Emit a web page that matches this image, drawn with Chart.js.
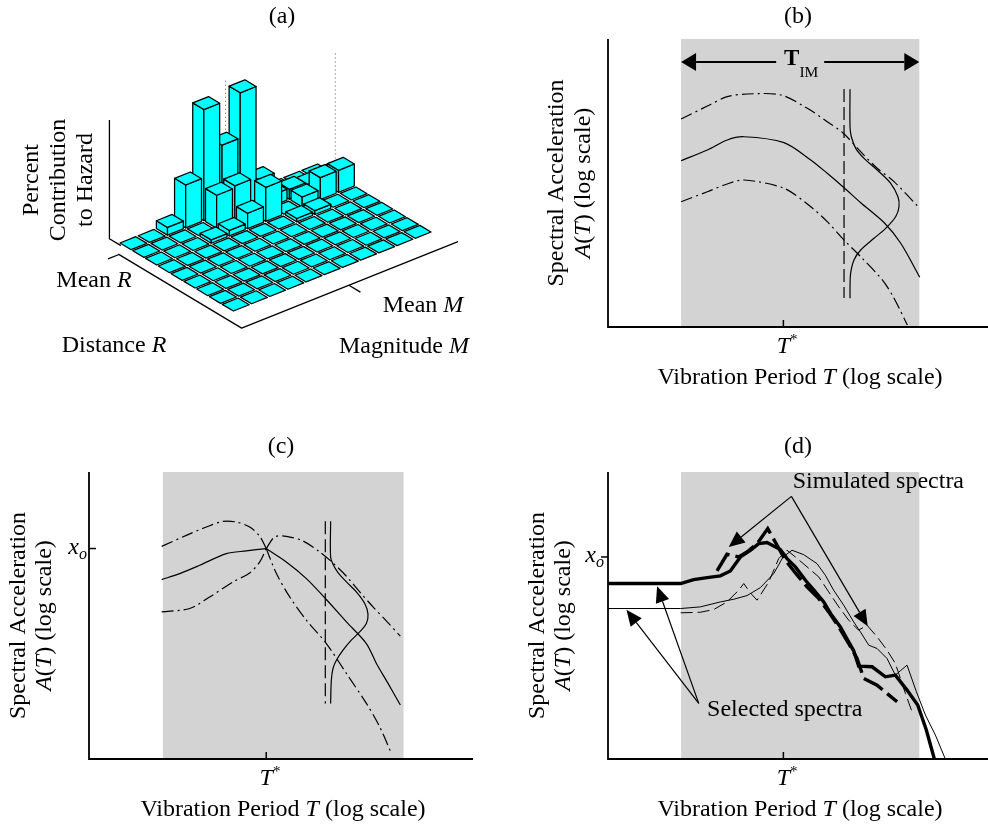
<!DOCTYPE html>
<html>
<head>
<meta charset="utf-8">
<title>Conditional spectrum record selection</title>
<script src="https://cdn.jsdelivr.net/npm/chart.js@4.4.1/dist/chart.umd.min.js"></script>
<style>
  html, body { margin: 0; padding: 0; background: #fff; }
  #wrap { position: relative; width: 988px; height: 830px; overflow: hidden; }
  #wrap canvas { position: absolute; }
</style>
</head>
<body>
<div id="wrap">
  <canvas id="pa" width="494" height="400" style="left:0;top:0"></canvas>
  <canvas id="pb" width="494" height="400" style="left:494px;top:0"></canvas>
  <canvas id="pc" width="494" height="420" style="left:0;top:410px"></canvas>
  <canvas id="pd" width="494" height="420" style="left:494px;top:410px"></canvas>
</div>
<script>
// ---------------------------------------------------------------------------
// (a) Deaggregation: percent contribution to hazard.
//     One array per distance bin (back row first), one entry per magnitude bin.
// ---------------------------------------------------------------------------
const deaggR0 = [0, 0, 0.7, 3.9, 10.1, 6.2, 10.3, 1.75, 0, 0, 0];
const deaggR1 = [0, 0, 0, 0, 3.0, 3.2, 0, 1.0, 0.9, 0.7, 0.8];
const deaggR2 = [0, 0, 0, 0.3, 0.5, 1.4, 3.1, 0, 0.9, 2.0, 2.0];
const deaggR3 = [0, 0, 0, 0, 0, 0, 0, 0.3, 0.35, 0, 0];
const deaggR4 = [0, 0, 0, 0, 0, 0, 0, 0, 0, 0, 0];
const deaggR5 = [0, 0, 0, 0, 0, 0, 0, 0, 0, 0, 0];
const deaggR6 = [0, 0, 0, 0, 0, 0, 0, 0, 0, 0, 0];
const deaggR7 = [0, 0, 0, 0, 0, 0, 0, 0, 0, 0, 0];
const deaggR8 = [0, 0, 0, 0, 0, 0, 0, 0, 0, 0, 0];
const deaggRows = [deaggR0, deaggR1, deaggR2, deaggR3, deaggR4, deaggR5, deaggR6, deaggR7, deaggR8];
const meanMagnitudeBin = 5.6;   // position of "Mean M" along the magnitude bins
const meanDistanceBin = 0.5;    // position of "Mean R" along the distance bins
const percentAxisTop = 10.8;    // top of the percent axis

// ---------------------------------------------------------------------------
// Spectra: x = log10(T / T*), y = log10 of spectral acceleration (arbitrary units)
// ---------------------------------------------------------------------------
const tStar = 0;
const imBand = [-0.70, 0.93];          // T_IM, the periods of interest
const xoPanelC = 0.2;                  // conditioning value x_o
const xoPanelD = 0.112;

// (b) median and +/- one sigma spectra, with the distribution at one period
const bMedX = [-0.70, -0.52, -0.384, -0.27, 0.004, 0.187, 0.30, 0.415, 0.529, 0.69, 0.803, 0.933];
const bMedY = [-0.268, -0.156, -0.052, -0.018, -0.08, -0.26, -0.399, -0.549, -0.705, -0.914, -1.128, -1.482];
const bUpX = [-0.70, -0.52, -0.384, -0.247, -0.018, 0.164, 0.30, 0.41, 0.529, 0.642, 0.757, 0.933];
const bUpY = [0.167, 0.302, 0.399, 0.427, 0.417, 0.278, 0.139, 0.018, -0.174, -0.347, -0.486, -0.764];
const bLoX = [-0.70, -0.52, -0.384, -0.27, 0.004, 0.187, 0.30, 0.415, 0.529, 0.677, 0.757, 0.848];
const bLoY = [-0.695, -0.591, -0.51, -0.469, -0.555, -0.747, -0.903, -1.094, -1.268, -1.51, -1.70, -1.979];
const bPdfX = [0.456, 0.456, 0.465, 0.495, 0.552, 0.642, 0.734, 0.784, 0.791, 0.768, 0.70, 0.62, 0.529, 0.483, 0.46, 0.456, 0.456];
const bPdfY = [0.476, 0.086, -0.018, -0.139, -0.243, -0.365, -0.503, -0.643, -0.747, -0.851, -0.972, -1.076, -1.198, -1.302, -1.441, -1.58, -1.70];
const bCutX = [0.415, 0.415];
const bCutY = [0.479, -1.698];
const bArrowY = 0.76;

// (c) conditional mean and +/- one sigma spectra given A(T*) = x_o
const cUpLX = [-0.708, -0.541, -0.405, -0.293, -0.202, -0.112, -0.044, 0];
const cUpLY = [0.223, 0.338, 0.425, 0.484, 0.477, 0.425, 0.328, 0.2];
const cUpRX = [0, 0.057, 0.136, 0.249, 0.362, 0.452, 0.543, 0.633, 0.723, 0.813, 0.908];
const cUpRY = [0.2, 0.321, 0.328, 0.279, 0.164, 0.049, -0.090, -0.253, -0.410, -0.556, -0.716];
const cMedLX = [-0.708, -0.586, -0.4505, -0.27, -0.135, 0];
const cMedLY = [-0.125, -0.062, 0.025, 0.147, 0.175, 0.2];
const cMedRX = [0, 0.136, 0.272, 0.407, 0.543, 0.678, 0.746, 0.825, 0.908];
const cMedRY = [0.2, 0.060, -0.114, -0.333, -0.567, -0.793, -1.001, -1.210, -1.436];
const cLoLX = [-0.708, -0.518, -0.383, -0.225, -0.112, -0.044, 0];
const cLoLY = [-0.462, -0.427, -0.306, -0.149, -0.055, 0.060, 0.2];
const cLoRX = [0, 0.069, 0.159, 0.272, 0.407, 0.543, 0.678, 0.768, 0.847];
const cLoRY = [0.2, -0.062, -0.306, -0.549, -0.793, -1.106, -1.419, -1.663, -1.941];
const cPdfX = [0.436, 0.436, 0.452, 0.486, 0.543, 0.610, 0.667, 0.689, 0.678, 0.633, 0.576, 0.520, 0.475, 0.452, 0.441, 0.436];
const cPdfY = [0.484, 0.112, 0.036, -0.051, -0.149, -0.253, -0.375, -0.486, -0.584, -0.671, -0.758, -0.862, -0.967, -1.054, -1.175, -1.419];
const cCutX = [0.400, 0.400];
const cCutY = [0.484, -1.419];

// (d) selected and simulated spectra
const dSel1X = [-1.2, -0.703, -0.614, -0.522, -0.431, -0.363, -0.294, -0.226, -0.169, -0.112, -0.021, 0.025, 0.082, 0.151, 0.219, 0.276, 0.326, 0.390, 0.440, 0.481, 0.515, 0.607, 0.698, 0.766, 0.846, 0.919, 0.978, 1.033];
const dSel1Y = [-0.166, -0.166, -0.125, -0.104, -0.086, -0.034, 0.112, 0.182, 0.251, 0.262, 0.189, 0.095, 0.008, -0.132, -0.253, -0.358, -0.486, -0.619, -0.758, -0.869, -1.029, -1.036, -1.141, -1.123, -1.280, -1.436, -1.697, -2.0];
const dSel2X = [-1.2, -0.703, -0.568, -0.431, -0.340, -0.249, -0.157, -0.066, -0.002, 0.059, 0.139, 0.230, 0.287, 0.344, 0.413, 0.481, 0.527, 0.584, 0.641, 0.709, 0.766, 0.846, 0.910, 0.972, 1.040, 1.108];
const dSel2Y = [-0.427, -0.427, -0.410, -0.358, -0.330, -0.292, -0.208, -0.062, 0.112, 0.182, 0.136, 0.042, -0.079, -0.236, -0.393, -0.567, -0.671, -0.810, -0.845, -0.949, -1.123, -1.019, -1.297, -1.541, -1.750, -2.0];
const dSim1X = [-0.454, -0.386, -0.306, -0.249, -0.180, -0.107, -0.043, 0.014, 0.082, 0.162, 0.242, 0.310, 0.379, 0.447, 0.504, 0.550, 0.641, 0.709, 0.778];
const dSim1Y = [-0.034, 0.140, 0.112, 0.164, 0.251, 0.408, 0.234, 0.077, -0.055, -0.201, -0.323, -0.462, -0.619, -0.793, -0.949, -1.158, -1.228, -1.315, -1.402];
const dSim2X = [-0.703, -0.568, -0.477, -0.386, -0.306, -0.271, -0.226, -0.180, -0.100, -0.032, 0.025, 0.082, 0.162, 0.242, 0.310, 0.379, 0.447, 0.515, 0.572, 0.641, 0.709, 0.766, 0.835, 0.880];
const dSim2Y = [-0.472, -0.466, -0.438, -0.358, -0.236, -0.166, -0.264, -0.340, -0.149, 0.095, 0.182, 0.112, 0.008, -0.097, -0.253, -0.410, -0.549, -0.654, -0.601, -0.723, -0.862, -1.001, -1.315, -1.506];
// callouts: label anchor and arrow tips
const simLabel = { x: 0.064, y: 0.834 };
const simFrom = { x: 0.055, y: 0.745 };
const simTips = [{ x: -0.374, y: 0.216 }, { x: 0.577, y: -0.612 }];
const selLabel = { x: -0.522, y: -1.551 };
const selFrom = { x: -0.579, y: -1.419 };
const selTips = [{ x: -1.074, y: -0.44 }, { x: -0.864, y: -0.194 }];

// ---------------------------------------------------------------------------
// text helpers
// ---------------------------------------------------------------------------
const FONT = '"Liberation Serif", "Times New Roman", Times, serif';
const FS = 24;
function fontOf(p) {
  return (p.i ? 'italic ' : '') + (p.b ? 'bold ' : '') + (p.s || FS) + 'px ' + FONT;
}
function rich(ctx, parts, x, y, align, rot) {
  ctx.save();
  ctx.translate(x, y);
  if (rot) ctx.rotate(rot);
  ctx.textAlign = 'left';
  ctx.textBaseline = 'alphabetic';
  ctx.fillStyle = '#000';
  let w = 0;
  const ws = parts.map(p => { ctx.font = fontOf(p); const m = ctx.measureText(p.t).width; w += m; return m; });
  let cx = align === 'left' ? 0 : align === 'right' ? -w : -w / 2;
  parts.forEach((p, k) => { ctx.font = fontOf(p); ctx.fillText(p.t, cx, p.dy || 0); cx += ws[k]; });
  ctx.restore();
}
function arrow(ctx, x0, y0, x1, y1, len, half, lw) {
  const a = Math.atan2(y1 - y0, x1 - x0);
  const bx = x1 - len * Math.cos(a), by = y1 - len * Math.sin(a);
  ctx.lineWidth = lw;
  ctx.beginPath(); ctx.moveTo(x0, y0); ctx.lineTo(bx, by); ctx.stroke();
  ctx.beginPath();
  ctx.moveTo(x1, y1);
  ctx.lineTo(bx + half * Math.sin(a), by - half * Math.cos(a));
  ctx.lineTo(bx - half * Math.sin(a), by + half * Math.cos(a));
  ctx.closePath(); ctx.fill();
}

const pts = (xs, ys) => xs.map((x, i) => ({ x, y: ys[i] }));
const DASHDOT = [12, 4, 2, 4];

// ---------------------------------------------------------------------------
// shared decorations for the three spectrum panels
// ---------------------------------------------------------------------------
const panelDecor = {
  pb: { title: '(b)', titleDy: -16, ylab: [-45.5, -18.5], xo: null, timArrow: true },
  pc: { title: '(c)', titleDy: -19, ylab: [-64, -38], xo: { v: xoPanelC, side: 1, gap: 2 } },
  pd: { title: '(d)', titleDy: -19, ylab: [-64, -38], xo: { v: xoPanelD, side: -1, gap: 4 }, callouts: true }
};

const spectrumDecor = {
  id: 'spectrumDecor',
  beforeDatasetsDraw(chart) {
    const { ctx, chartArea: a, scales: { x } } = chart;
    const x0 = x.getPixelForValue(imBand[0]), x1 = x.getPixelForValue(imBand[1]);
    ctx.save();
    ctx.fillStyle = '#d3d3d3';
    ctx.fillRect(x0, a.top, x1 - x0, a.bottom - a.top);
    ctx.restore();
  },
  afterDatasetsDraw(chart) {
    const cfg = panelDecor[chart.canvas.id];
    const { ctx, chartArea: a, scales: { x, y } } = chart;
    const cxArea = (a.left + a.right) / 2, cyArea = (a.top + a.bottom) / 2;
    ctx.save();
    ctx.strokeStyle = '#000';
    ctx.fillStyle = '#000';
    // axes
    ctx.lineWidth = 1.8;
    ctx.beginPath();
    ctx.moveTo(a.left, a.top); ctx.lineTo(a.left, a.bottom); ctx.lineTo(a.right, a.bottom);
    ctx.stroke();
    // T* tick and label
    const ts = x.getPixelForValue(tStar);
    ctx.lineWidth = 1.5;
    ctx.beginPath(); ctx.moveTo(ts, a.bottom); ctx.lineTo(ts, a.bottom - 7); ctx.stroke();
    ctx.font = fontOf({ i: 1, s: 24 });
    const tw = ctx.measureText('T').width;
    rich(ctx, [{ t: 'T', i: 1, s: 24 }, { t: '*', s: 15, dy: -9 }], ts - tw / 2, a.bottom + 26, 'left');
    // x_o tick and label
    if (cfg.xo) {
      const yo = y.getPixelForValue(cfg.xo.v);
      ctx.beginPath(); ctx.moveTo(a.left, yo); ctx.lineTo(a.left + 7 * cfg.xo.side, yo); ctx.stroke();
      const right = cfg.xo.side > 0 ? a.left - cfg.xo.gap : a.left - 7 - 1 + cfg.xo.gap;
      rich(ctx, [{ t: 'x', i: 1, s: 24 }, { t: 'o', i: 1, s: 16, dy: 5 }], right, yo + 5, 'right');
    }
    // titles and axis labels
    rich(ctx, [{ t: cfg.title }], cxArea, a.top + cfg.titleDy, 'center');
    rich(ctx, [{ t: 'Vibration Period ' }, { t: 'T', i: 1 }, { t: ' (log scale)' }], cxArea + 2, a.bottom + 56.5, 'center');
    rich(ctx, [{ t: 'Spectral Acceleration' }], a.left + cfg.ylab[0], cyArea, 'center', -Math.PI / 2);
    rich(ctx, [{ t: 'A', i: 1 }, { t: '(' }, { t: 'T', i: 1 }, { t: ') (log scale)' }], a.left + cfg.ylab[1], cyArea, 'center', -Math.PI / 2);
    // T_IM double arrow
    if (cfg.timArrow) {
      const x0 = x.getPixelForValue(imBand[0]), x1 = x.getPixelForValue(imBand[1]);
      const ya = y.getPixelForValue(bArrowY), xm = (x0 + x1) / 2;
      arrow(ctx, xm - 24, ya, x0, ya, 15, 9, 2);
      arrow(ctx, xm + 24, ya, x1, ya, 15, 9, 2);
      ctx.font = fontOf({ b: 1, s: 23 });
      const w1 = ctx.measureText('T').width;
      ctx.font = fontOf({ s: 15.5 });
      const w2 = ctx.measureText('IM').width;
      rich(ctx, [{ t: 'T', b: 1, s: 23 }, { t: 'IM', s: 15.5, dy: 12 }], xm - (w1 + w2) / 2 + 1, ya + 3, 'left');
    }
    // callouts for selected / simulated spectra
    if (cfg.callouts) {
      const P = p => [x.getPixelForValue(p.x), y.getPixelForValue(p.y)];
      const [sx, sy] = P(simFrom);
      simTips.forEach(t => { const [tx, ty] = P(t); arrow(ctx, sx, sy, tx, ty, 16, 7, 1.2); });
      const [lx, ly] = P(selFrom);
      selTips.forEach(t => { const [tx, ty] = P(t); arrow(ctx, lx, ly, tx, ty, 16, 7, 1.2); });
      const [s1x, s1y] = P(simLabel);
      rich(ctx, [{ t: 'Simulated spectra' }], s1x, s1y, 'left');
      const [s2x, s2y] = P(selLabel);
      rich(ctx, [{ t: 'Selected spectra' }], s2x, s2y, 'left');
    }
    ctx.restore();
  }
};

function line(data, opts) {
  return Object.assign({
    data, showLine: true, borderColor: '#000', backgroundColor: '#000',
    borderWidth: 1.2, pointRadius: 0, pointHoverRadius: 0, tension: 0.3, fill: false
  }, opts || {});
}

function spectrumChart(id, pad, datasets) {
  return new Chart(document.getElementById(id), {
    type: 'scatter',
    data: { datasets },
    options: {
      responsive: false, animation: false, events: [],
      layout: { padding: pad },
      plugins: { legend: { display: false }, tooltip: { enabled: false }, title: { display: false } },
      scales: {
        x: { type: 'linear', display: false, min: -1.2, max: 1.4 },
        y: { type: 'linear', display: false, min: -2, max: 1 }
      }
    },
    plugins: [spectrumDecor]
  });
}

// (b)
spectrumChart('pb', { left: 114, right: 0, top: 39, bottom: 73 }, [
  line(pts(bUpX, bUpY), { borderDash: DASHDOT }),
  line(pts(bMedX, bMedY)),
  line(pts(bLoX, bLoY), { borderDash: DASHDOT }),
  line(pts(bCutX, bCutY), { borderDash: [13, 5], tension: 0 }),
  line(pts(bPdfX, bPdfY), { tension: 0.35 })
]);

// (c)
spectrumChart('pc', { left: 89, right: 21, top: 62, bottom: 71 }, [
  line(pts(cUpLX, cUpLY), { borderDash: DASHDOT }),
  line(pts(cUpRX, cUpRY), { borderDash: DASHDOT }),
  line(pts(cMedLX, cMedLY)),
  line(pts(cMedRX, cMedRY)),
  line(pts(cLoLX, cLoLY), { borderDash: DASHDOT }),
  line(pts(cLoRX, cLoRY), { borderDash: DASHDOT }),
  line(pts(cCutX, cCutY), { borderDash: [13, 5], tension: 0 }),
  line(pts(cPdfX, cPdfY), { tension: 0.35 })
]);

// (d)
spectrumChart('pd', { left: 114, right: 0, top: 62, bottom: 71 }, [
  line(pts(dSim2X, dSim2Y), { borderDash: [12, 5], tension: 0, borderWidth: 1 }),
  line(pts(dSel2X, dSel2Y), { tension: 0, borderWidth: 1 }),
  line(pts(dSim1X, dSim1Y), { borderDash: [22, 6], tension: 0, borderWidth: 3.4 }),
  line(pts(dSel1X, dSel1Y), { tension: 0, borderWidth: 3.4 })
]);

// ---------------------------------------------------------------------------
// (a) 3-D bars: magnitude bins run up-right, distance bins run down-right,
//     percent runs straight up.  The view plane is mapped by two linear scales.
// ---------------------------------------------------------------------------
const VIEW = { mx: 1, my: 0.4, rx: 0.703, ry: -0.422, kz: 0.605, inset: 0.065 };
const viewX = (m, r) => m * VIEW.mx + r * VIEW.rx;
const viewY = (m, r, z) => m * VIEW.my + r * VIEW.ry + z * VIEW.kz;

const deaggCells = [];
deaggRows.forEach((row, r) => row.forEach((p, m) => deaggCells.push({ m, r, p })));

const deaggPlugin = {
  id: 'deagg3d',
  afterDatasetsDraw(chart) {
    const { ctx, scales: { x, y } } = chart;
    const P = (m, r, z) => [x.getPixelForValue(viewX(m, r)), y.getPixelForValue(viewY(m, r, z))];
    const poly = (list, fill) => {
      ctx.beginPath();
      list.forEach((p, k) => (k ? ctx.lineTo(p[0], p[1]) : ctx.moveTo(p[0], p[1])));
      if (fill) { ctx.closePath(); ctx.fill(); }
      ctx.stroke();
    };
    ctx.save();
    ctx.strokeStyle = '#000';
    ctx.lineJoin = 'round';

    // back-wall grid lines at the mean magnitude and mean distance
    ctx.lineWidth = 1;
    ctx.strokeStyle = '#555';
    ctx.setLineDash([1, 3]);
    poly([P(meanMagnitudeBin, 0.45, 0), P(meanMagnitudeBin, 0.45, 11.6)]);
    poly([P(11.6, meanDistanceBin, 0), P(11.6, meanDistanceBin, 10)]);
    ctx.setLineDash([]);
    ctx.strokeStyle = '#000';

    // percent axis and floor edges
    ctx.lineWidth = 1.3;
    poly([P(-0.05, 0.3, 0), P(-0.05, -0.6, 0), P(-0.05, -0.6, percentAxisTop)]);
    poly([P(-0.3, 0.45, -0.5), P(-0.3, 10.1, -0.5), P(11.6, 10.1, -0.5)]);
    poly([P(-0.3, meanDistanceBin, -0.5), P(-0.9, meanDistanceBin, -0.5)]);
    poly([P(meanMagnitudeBin, 10.1, -0.5), P(meanMagnitudeBin, 11.0, -0.5)]);

    // bars, painted back to front
    const g = VIEW.inset;
    const order = deaggCells.slice().sort((a, b) => (a.r - b.r) || (b.m - a.m));
    ctx.fillStyle = '#00ffff';
    ctx.lineWidth = 1.25;
    order.forEach(({ m, r, p }) => {
      const m0 = m + g, m1 = m + 1 - g, r0 = r + g, r1 = r + 1 - g;
      if (p > 0) {
        poly([P(m0, r0, 0), P(m0, r1, 0), P(m0, r1, p), P(m0, r0, p)], true);
        poly([P(m0, r1, 0), P(m1, r1, 0), P(m1, r1, p), P(m0, r1, p)], true);
      }
      poly([P(m0, r0, p), P(m1, r0, p), P(m1, r1, p), P(m0, r1, p)], true);
    });

    // labels
    rich(ctx, [{ t: '(a)' }], 282, 23, 'center');
    rich(ctx, [{ t: 'Percent' }], 38.3, 180, 'center', -Math.PI / 2);
    rich(ctx, [{ t: 'Contribution' }], 65, 180, 'center', -Math.PI / 2);
    rich(ctx, [{ t: 'to Hazard' }], 91.7, 180, 'center', -Math.PI / 2);
    rich(ctx, [{ t: 'Mean ' }, { t: 'R', i: 1 }], 94, 287, 'center');
    rich(ctx, [{ t: 'Distance ' }, { t: 'R', i: 1 }], 114, 351.5, 'center');
    rich(ctx, [{ t: 'Mean ' }, { t: 'M', i: 1 }], 423, 311.5, 'center');
    rich(ctx, [{ t: 'Magnitude ' }, { t: 'M', i: 1 }], 404, 352.5, 'center');
    ctx.restore();
  }
};

new Chart(document.getElementById('pa'), {
  type: 'scatter',
  data: {
    datasets: [{
      label: 'Percent contribution',
      data: deaggCells.map(c => ({ x: viewX(c.m + 0.5, c.r + 0.5), y: viewY(c.m + 0.5, c.r + 0.5, c.p) })),
      pointRadius: 0, pointHoverRadius: 0, showLine: false
    }]
  },
  options: {
    responsive: false, animation: false, events: [],
    layout: { padding: 0 },
    plugins: { legend: { display: false }, tooltip: { enabled: false }, title: { display: false } },
    scales: {
      x: { type: 'linear', display: false, min: -6.49, max: 20.68 },
      y: { type: 'linear', display: false, min: -8.64, max: 13.37 }
    }
  },
  plugins: [deaggPlugin]
});
</script>
</body>
</html>
